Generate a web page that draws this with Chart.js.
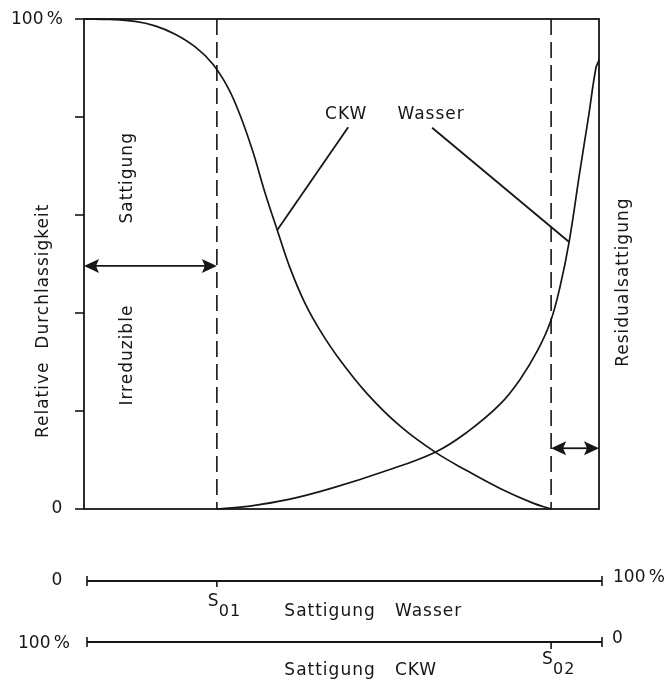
<!DOCTYPE html>
<html lang="de">
<head>
    <meta charset="UTF-8">
    <title>Relative Durchlässigkeit</title>
    <script src="https://cdn.jsdelivr.net/npm/chart.js"></script>
    <style>
        body {
            margin: 0;
            padding: 0;
            background: #ffffff;
        }

        .chart-box {
            position: relative;
            width: 667px;
            height: 684px;
        }
    </style>
</head>
<body>

    <div class="chart-box">
        <canvas id="permChart" width="667" height="684"></canvas>
    </div>

    <script>
        // Kurven (Sättigung Wasser in %, rel. Durchlässigkeit in %)
        const ckwX = [0, 5.0, 9.9, 13.8, 17.7, 21.6, 25.0, 28.0, 30.3, 32.8, 35.1, 37.5, 40.0, 42.9, 45.8, 49.7, 55.0, 61.4, 68.2, 74.4, 80.8, 87.2, 90.7];
        const ckwY = [100, 99.9, 99.5, 98.6, 96.9, 94.3, 90.8, 85.9, 80.4, 72.9, 64.7, 57.0, 49.2, 42.0, 36.5, 30.4, 23.5, 16.9, 11.6, 7.8, 4.2, 1.2, 0];
        const wasserX = [25.8, 32.2, 40.0, 48.3, 58.1, 68.2, 74.4, 80.8, 84.7, 88.0, 90.5, 92.4, 94.2, 96.3, 97.9, 99.4, 100];
        const wasserY = [0, 0.6, 2.0, 4.3, 7.6, 11.6, 15.7, 21.4, 26.5, 32.2, 38.0, 45.2, 54.5, 69.0, 79.6, 90.0, 91.6];

        const yTicks = [0, 20, 40, 60, 80, 100];
        const s01 = 25.8;   // irreduzible Sättigung Wasser
        const s02 = 90.7;   // Residualsättigung CKW

        // Beschriftungen der Kurven: Text-Position und Ende der Hinweislinie
        const curveLabels = ['CKW', 'Wasser'];
        const labelX = [50.9, 67.4];
        const labelY = [79.6, 79.6];
        const pointerFromX = [51.3, 67.6];
        const pointerFromY = [77.9, 77.8];
        const pointerToX = [37.5, 94.2];
        const pointerToY = [56.9, 54.5];

        const ink = '#161616';
        const fontMain = '17px "DejaVu Sans", sans-serif';
        const pct = '100\u2009%';

        function txt(ctx, s, x, y, align, font) {
            ctx.font = font || fontMain;
            ctx.textAlign = align || 'left';
            ctx.textBaseline = 'middle';
            ctx.fillText(s, x, y);
        }

        function rotTxt(ctx, s, x, y) {
            ctx.save();
            ctx.translate(x, y);
            ctx.rotate(-Math.PI / 2);
            txt(ctx, s, 0, 0, 'center');
            ctx.restore();
        }

        function line(ctx, x1, y1, x2, y2, w) {
            ctx.lineWidth = w || 1.6;
            ctx.beginPath();
            ctx.moveTo(x1, y1);
            ctx.lineTo(x2, y2);
            ctx.stroke();
        }

        function arrowHead(ctx, x, y, dir) {
            // dir = -1 zeigt nach links, +1 nach rechts
            ctx.beginPath();
            ctx.moveTo(x, y);
            ctx.lineTo(x - dir * 15, y - 7);
            ctx.lineTo(x - dir * 12, y);
            ctx.lineTo(x - dir * 15, y + 7);
            ctx.closePath();
            ctx.fill();
        }

        function doubleArrow(ctx, x1, x2, y) {
            line(ctx, x1 + 8, y, x2 - 8, y, 1.8);
            arrowHead(ctx, x1, y, -1);
            arrowHead(ctx, x2, y, 1);
        }

        const drawExtras = {
            id: 'drawExtras',
            afterDatasetsDraw(chart) {
                const ctx = chart.ctx;
                const xs = chart.scales.x;
                const ys = chart.scales.y;
                const a = chart.chartArea;

                ctx.save();
                ctx.strokeStyle = ink;
                ctx.fillStyle = ink;

                // Rahmen
                ctx.lineWidth = 1.8;
                ctx.strokeRect(a.left, a.top, a.right - a.left, a.bottom - a.top);

                // Teilstriche links
                yTicks.forEach(v => line(ctx, a.left - 9, ys.getPixelForValue(v), a.left, ys.getPixelForValue(v), 1.6));
                txt(ctx, pct, a.left - 21, ys.getPixelForValue(100) + 1, 'right');
                txt(ctx, '0', a.left - 27, ys.getPixelForValue(0), 'center');

                // gestrichelte Linien S01 / S02
                ctx.setLineDash([16, 7]);
                [s01, s02].forEach(v => line(ctx, xs.getPixelForValue(v), a.top, xs.getPixelForValue(v), a.bottom, 1.6));
                ctx.setLineDash([]);

                // Doppelpfeile
                doubleArrow(ctx, a.left, xs.getPixelForValue(s01), ys.getPixelForValue(49.6));
                doubleArrow(ctx, xs.getPixelForValue(s02), a.right, ys.getPixelForValue(12.4));

                ctx.letterSpacing = '1px';

                // Kurvenbeschriftungen mit Hinweislinien
                curveLabels.forEach((s, i) => {
                    txt(ctx, s, xs.getPixelForValue(labelX[i]), ys.getPixelForValue(labelY[i]) - 4, 'center');
                    line(ctx, xs.getPixelForValue(pointerFromX[i]), ys.getPixelForValue(pointerFromY[i]),
                        xs.getPixelForValue(pointerToX[i]), ys.getPixelForValue(pointerToY[i]), 1.8);
                });

                // gedrehte Texte
                rotTxt(ctx, 'Relative  Durchlassigkeit', a.left - 40, ys.getPixelForValue(38.4));
                rotTxt(ctx, 'Sattigung', xs.getPixelForValue(8.4), ys.getPixelForValue(67.6));
                rotTxt(ctx, 'Irreduzible', xs.getPixelForValue(8.4), ys.getPixelForValue(31.4));
                rotTxt(ctx, 'Residualsattigung', a.right + 25, ys.getPixelForValue(46.3));

                // untere Achsen
                const x0 = xs.getPixelForValue(0) + 3;
                const x1 = xs.getPixelForValue(100) + 3;
                const yW = a.bottom + 72;
                const yC = a.bottom + 133;

                line(ctx, x0, yW, x1, yW, 1.8);
                line(ctx, x0, yW - 5, x0, yW + 5, 1.6);
                line(ctx, x1, yW - 5, x1, yW + 5, 1.6);
                line(ctx, xs.getPixelForValue(s01), yW, xs.getPixelForValue(s01), yW + 6, 1.6);

                line(ctx, x0, yC, x1, yC, 1.8);
                line(ctx, x0, yC - 5, x0, yC + 5, 1.6);
                line(ctx, x1, yC - 5, x1, yC + 5, 1.6);
                line(ctx, xs.getPixelForValue(s02), yC, xs.getPixelForValue(s02), yC + 7, 1.6);

                // S01 / S02 mit Index
                txt(ctx, 'S', xs.getPixelForValue(s01) - 9, yW + 21, 'left');
                txt(ctx, '01', xs.getPixelForValue(s01) + 2, yW + 31, 'left', '16px "DejaVu Sans", sans-serif');
                txt(ctx, 'S', xs.getPixelForValue(s02) - 9, yC + 18, 'left');
                txt(ctx, '02', xs.getPixelForValue(s02) + 2, yC + 28, 'left', '16px "DejaVu Sans", sans-serif');

                txt(ctx, 'Sattigung   Wasser', xs.getPixelForValue(38.9), yW + 31, 'left');
                txt(ctx, 'Sattigung   CKW', xs.getPixelForValue(38.9), yC + 29, 'left');

                ctx.letterSpacing = '0px';
                txt(ctx, '0', a.left - 27, yW, 'center');
                txt(ctx, pct, x1 + 11, yW - 3, 'left');
                txt(ctx, pct, x0 - 17, yC + 2, 'right');
                txt(ctx, '0', x1 + 10, yC - 3, 'left');

                ctx.restore();
            }
        };

        const toPoints = (xArr, yArr) => xArr.map((x, i) => ({ x: x, y: yArr[i] }));

        const ctx = document.getElementById('permChart').getContext('2d');
        const permChart = new Chart(ctx, {
            type: 'scatter',
            data: {
                datasets: [{
                    label: 'CKW',
                    data: toPoints(ckwX, ckwY),
                    showLine: true,
                    borderColor: ink,
                    borderWidth: 1.7,
                    pointRadius: 0,
                    tension: 0.4,
                    clip: false
                }, {
                    label: 'Wasser',
                    data: toPoints(wasserX, wasserY),
                    showLine: true,
                    borderColor: ink,
                    borderWidth: 1.7,
                    pointRadius: 0,
                    tension: 0.4,
                    clip: false
                }]
            },
            options: {
                responsive: false,
                animation: false,
                layout: {
                    padding: { left: 84, right: 68, top: 19, bottom: 175 }
                },
                plugins: {
                    legend: { display: false },
                    tooltip: { enabled: false }
                },
                scales: {
                    x: { type: 'linear', min: 0, max: 100, display: false },
                    y: { type: 'linear', min: 0, max: 100, display: false }
                }
            },
            plugins: [drawExtras]
        });
    </script>
</body>
</html>
